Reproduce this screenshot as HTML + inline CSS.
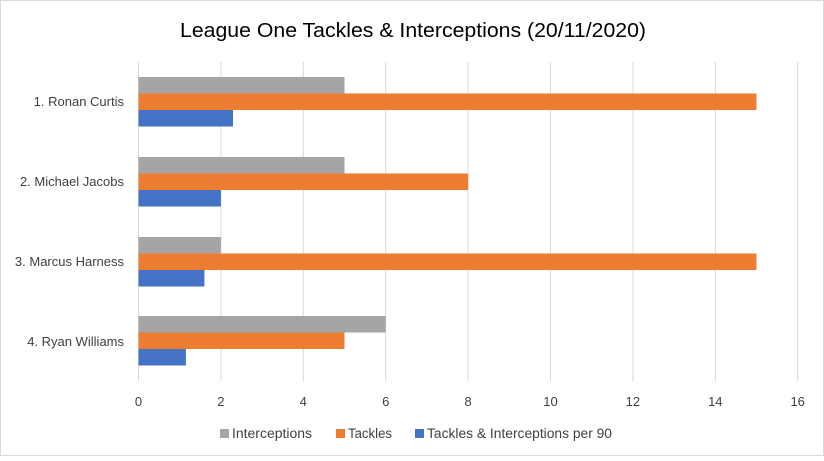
<!DOCTYPE html>
<html><head><style>
body{margin:0;background:#fff}
svg text{font-family:"Liberation Sans",sans-serif}
</style></head><body>
<svg width="824" height="456" xmlns="http://www.w3.org/2000/svg">
<rect x="0.5" y="0.5" width="823" height="455" fill="#fff" stroke="#d9d9d9"/>
<text x="413" y="37" text-anchor="middle" font-size="20.5" textLength="466" lengthAdjust="spacingAndGlyphs" fill="#000">League One Tackles &amp; Interceptions (20/11/2020)</text>
<g stroke="#d9d9d9" stroke-width="1">
<line x1="138.5" y1="62" x2="138.5" y2="381"/>
<line x1="220.9" y1="62" x2="220.9" y2="381"/>
<line x1="303.3" y1="62" x2="303.3" y2="381"/>
<line x1="385.7" y1="62" x2="385.7" y2="381"/>
<line x1="468.1" y1="62" x2="468.1" y2="381"/>
<line x1="550.5" y1="62" x2="550.5" y2="381"/>
<line x1="632.9" y1="62" x2="632.9" y2="381"/>
<line x1="715.3" y1="62" x2="715.3" y2="381"/>
<line x1="797.7" y1="62" x2="797.7" y2="381"/>
</g>
<rect x="138.5" y="77" width="206" height="16.5" fill="#a5a5a5"/>
<rect x="138.5" y="93.5" width="618" height="16.5" fill="#ed7d31"/>
<rect x="138.5" y="110" width="94.5" height="16.5" fill="#4472c4"/>
<rect x="138.5" y="157" width="206" height="16.5" fill="#a5a5a5"/>
<rect x="138.5" y="173.5" width="329.6" height="16.5" fill="#ed7d31"/>
<rect x="138.5" y="190" width="82.4" height="16.5" fill="#4472c4"/>
<rect x="138.5" y="237" width="82.4" height="16.5" fill="#a5a5a5"/>
<rect x="138.5" y="253.5" width="618" height="16.5" fill="#ed7d31"/>
<rect x="138.5" y="270" width="65.9" height="16.5" fill="#4472c4"/>
<rect x="138.5" y="316" width="247.2" height="16.5" fill="#a5a5a5"/>
<rect x="138.5" y="332.5" width="206" height="16.5" fill="#ed7d31"/>
<rect x="138.5" y="349" width="47.4" height="16.5" fill="#4472c4"/>
<g font-size="13" fill="#404040" text-anchor="end">
<text x="124" y="106">1. Ronan Curtis</text>
<text x="124" y="186">2. Michael Jacobs</text>
<text x="124" y="266">3. Marcus Harness</text>
<text x="124" y="346">4. Ryan Williams</text>
</g>
<g font-size="13" fill="#404040" text-anchor="middle">
<text x="138.5" y="406">0</text>
<text x="220.9" y="406">2</text>
<text x="303.3" y="406">4</text>
<text x="385.7" y="406">6</text>
<text x="468.1" y="406">8</text>
<text x="550.5" y="406">10</text>
<text x="632.9" y="406">12</text>
<text x="715.3" y="406">14</text>
<text x="797.7" y="406">16</text>
</g>
<g font-size="13.5" fill="#404040">
<rect x="220" y="429" width="9" height="9" fill="#a5a5a5"/>
<text x="232" y="438" textLength="80" lengthAdjust="spacingAndGlyphs">Interceptions</text>
<rect x="336" y="429" width="9" height="9" fill="#ed7d31"/>
<text x="348" y="438" textLength="44" lengthAdjust="spacingAndGlyphs">Tackles</text>
<rect x="415" y="429" width="9" height="9" fill="#4472c4"/>
<text x="427" y="438" textLength="185" lengthAdjust="spacingAndGlyphs">Tackles &amp; Interceptions per 90</text>
</g>
</svg>
</body></html>
